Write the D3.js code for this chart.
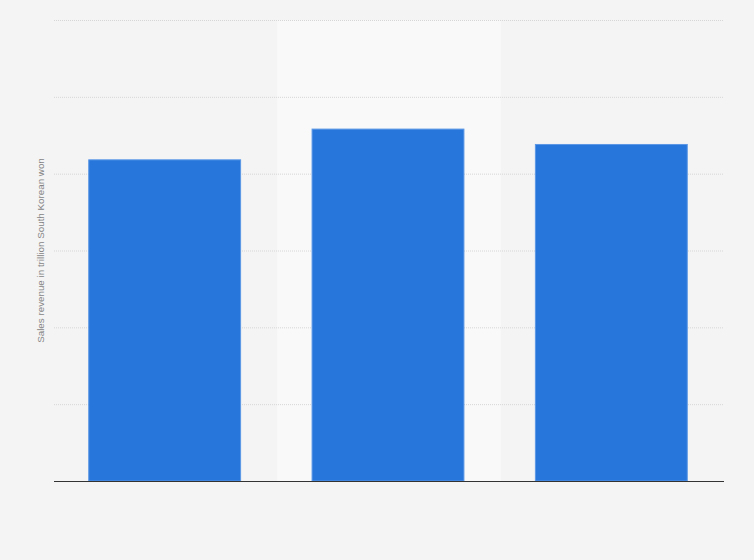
<!DOCTYPE html>
<html>
<head>
<meta charset="utf-8">
<script src="https://cdn.jsdelivr.net/npm/d3@7"></script>
<style>
  body { margin: 0; background: #f4f4f4; }
  svg { display: block; font-family: "Liberation Sans", Arial, sans-serif; }
</style>
</head>
<body>
<div id="chart"></div>
<script>
// Data (no tick labels shown, scale 0-60 assumed)
const categories = ["2021", "2022", "2023"];
const revenue = [41.8, 45.8, 43.8];
const yTicks = [0, 10, 20, 30, 40, 50, 60];
const highlighted = "2022";

const drawChart = () => {
  const width = 754;
  const height = 560;
  const margin = { top: 20, right: 30, bottom: 79, left: 54 };

  const xScale = d3.scaleBand()
                   .domain(categories)
                   .range([margin.left, width - margin.right])
                   .padding(0);

  const yScale = d3.scaleLinear()
                   .domain([0, 60])
                   .range([height - margin.bottom, margin.top]);

  const svg = d3.select("#chart")
                .append("svg")
                .attr("width", width)
                .attr("height", height);

  svg.append("rect")
     .attr("width", width)
     .attr("height", height)
     .attr("fill", "#f4f4f4");

  // highlighted column band
  svg.append("rect")
     .attr("x", xScale(highlighted))
     .attr("y", yScale(60))
     .attr("width", xScale.bandwidth())
     .attr("height", yScale(0) - yScale(60))
     .attr("fill", "#f9f9f9");

  // gridlines
  svg.append("g")
     .selectAll("line")
     .data(yTicks.filter((d) => d > 0))
     .enter()
     .append("line")
     .attr("x1", margin.left)
     .attr("x2", width - margin.right)
     .attr("y1", (d) => yScale(d) + 0.5)
     .attr("y2", (d) => yScale(d) + 0.5)
     .attr("stroke", "#d6d6d6")
     .attr("stroke-dasharray", "1,1");

  const barW = xScale.bandwidth() * 0.68;

  svg.append("g")
     .selectAll("rect")
     .data(categories)
     .enter()
     .append("rect")
     .attr("x", (d) => xScale(d) + (xScale.bandwidth() - barW) / 2 - 1)
     .attr("y", (d, i) => yScale(revenue[i]))
     .attr("width", barW)
     .attr("height", (d, i) => yScale(0) - yScale(revenue[i]))
     .attr("fill", "#2776db")
     .attr("stroke", "#5b97e6")
     .attr("stroke-width", 1);

  // baseline
  svg.append("line")
     .attr("x1", margin.left)
     .attr("x2", width - margin.right)
     .attr("y1", yScale(0) + 0.5)
     .attr("y2", yScale(0) + 0.5)
     .attr("stroke", "#333333")
     .attr("stroke-width", 1.2);

  // y axis title
  svg.append("text")
     .attr("transform", `translate(43.5, ${(margin.top + height - margin.bottom) / 2}) rotate(-90)`)
     .attr("text-anchor", "middle")
     .attr("font-size", 9.8)
     .attr("fill", "#858585")
     .text("Sales revenue in trillion South Korean won");
}

drawChart();
</script>
</body>
</html>
